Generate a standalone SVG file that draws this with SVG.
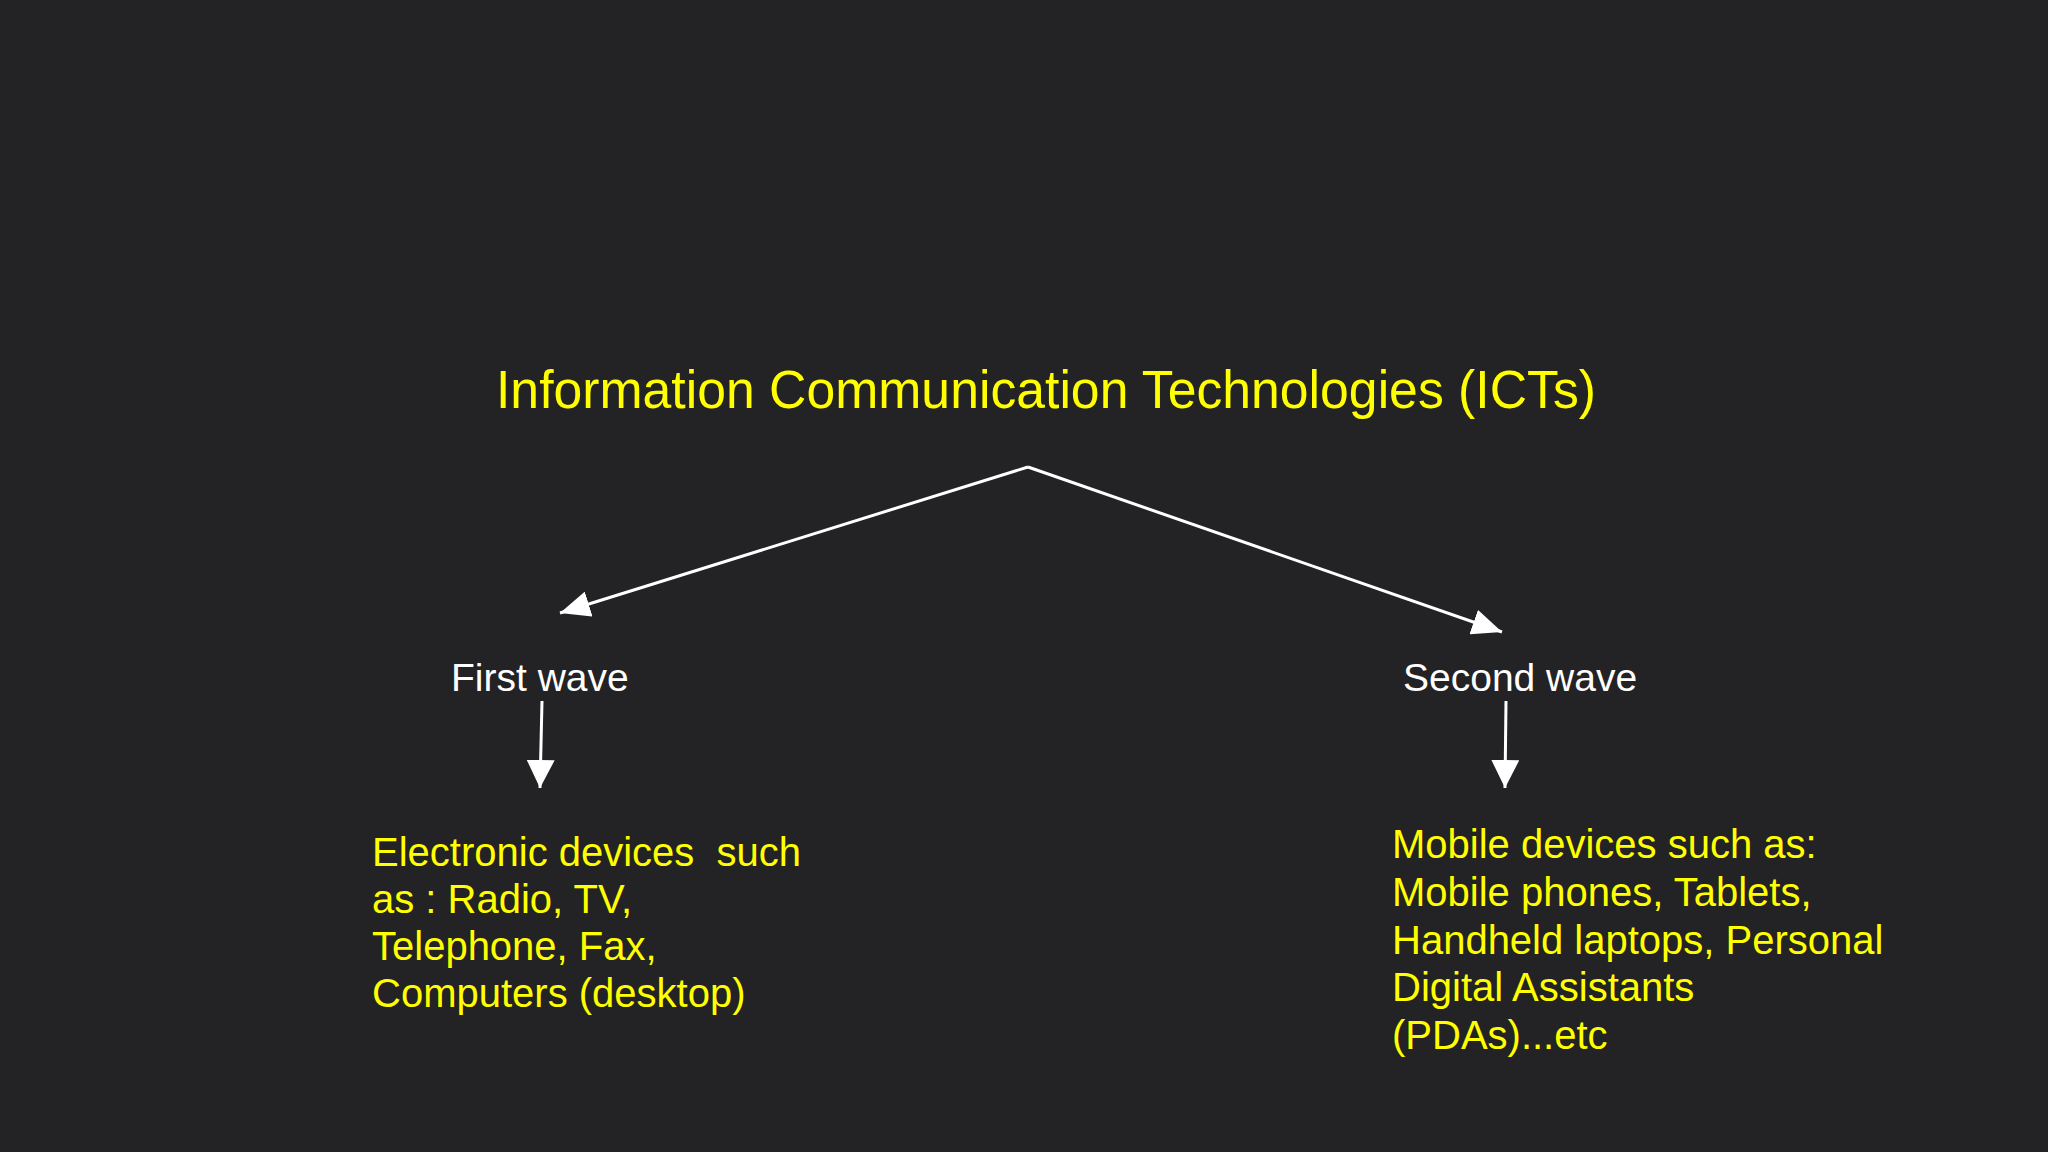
<svg xmlns="http://www.w3.org/2000/svg" width="2048" height="1152" viewBox="0 0 2048 1152">
  <style>
    .yl { fill: #ffff00; font-family: "Liberation Sans", Arial, sans-serif; }
    .wt { fill: #ffffff; font-family: "Liberation Sans", Arial, sans-serif; }
    .conn { stroke: #ffffff; stroke-width: 3; fill: none; }
  </style>
  <defs>
    <marker id="headA" markerUnits="userSpaceOnUse" markerWidth="30" markerHeight="26" refX="30" refY="13" orient="auto">
      <path d="M0,0 L30,13 L0,26 z" fill="#ffffff"/>
    </marker>
    <marker id="headB" markerUnits="userSpaceOnUse" markerWidth="28" markerHeight="28" refX="28" refY="14" orient="auto">
      <path d="M0,0 L28,14 L0,28 z" fill="#ffffff"/>
    </marker>
  </defs>
  <rect width="2048" height="1152" fill="#232224"/>

  <g id="ict">
    <text class="yl" x="496" y="408" font-size="53" textLength="1100" lengthAdjust="spacingAndGlyphs">Information Communication Technologies (ICTs)</text>
  </g>
  <g id="first-wave">
    <text class="wt" x="451" y="691" font-size="39">First wave</text>
  </g>
  <g id="second-wave">
    <text class="wt" x="1403" y="691" font-size="39">Second wave</text>
  </g>
  <g id="first-devices">
    <text class="yl" font-size="40">
      <tspan x="372" y="866" xml:space="preserve">Electronic devices  such</tspan>
      <tspan x="372" y="913">as : Radio, TV,</tspan>
      <tspan x="372" y="960">Telephone, Fax,</tspan>
      <tspan x="372" y="1007">Computers (desktop)</tspan>
    </text>
  </g>
  <g id="second-devices">
    <text class="yl" font-size="40">
      <tspan x="1392" y="858">Mobile devices such as:</tspan>
      <tspan x="1392" y="906">Mobile phones, Tablets,</tspan>
      <tspan x="1392" y="954">Handheld laptops, Personal</tspan>
      <tspan x="1392" y="1001">Digital Assistants</tspan>
      <tspan x="1392" y="1049">(PDAs)...etc</tspan>
    </text>
  </g>

  <g id="connectors">
    <line class="conn" x1="1028" y1="467" x2="560" y2="613" marker-end="url(#headA)"/>
    <line class="conn" x1="1028" y1="467" x2="1502" y2="632" marker-end="url(#headA)"/>
    <line class="conn" x1="542" y1="701" x2="540" y2="788" marker-end="url(#headB)"/>
    <line class="conn" x1="1506" y1="701" x2="1505" y2="788" marker-end="url(#headB)"/>
  </g>
</svg>
